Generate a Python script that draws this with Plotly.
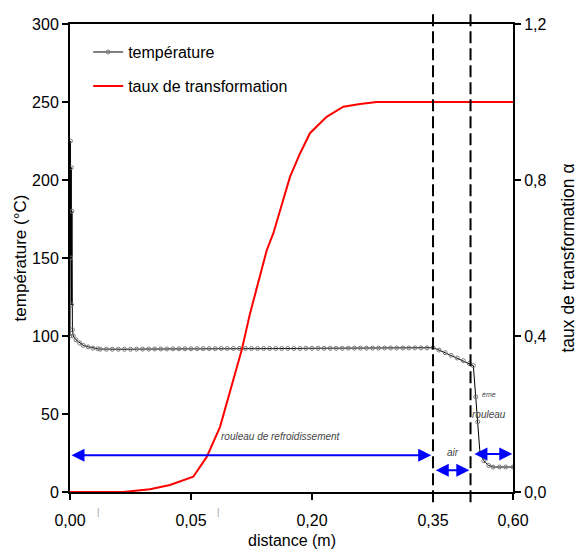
import plotly.graph_objects as go

# x positions are in axis units: one unit = one labelled tick interval
tick_pos = [0, 1, 2, 3, 3.661]
tick_text = ['0,00', '0,05', '0,20', '0,35', '0,60']

temp_x = [0.000, 0.003, 0.006, 0.010, 0.013, 0.016, 0.020, 0.027, 0.05, 0.08, 0.11, 0.15, 0.19, 0.23,
          0.25, 0.30, 0.35, 0.40, 0.45, 0.50, 0.55, 0.60, 0.65, 0.70, 0.75, 0.80, 0.85, 0.90, 0.95,
          1.00, 1.05, 1.10, 1.15, 1.20, 1.25, 1.30, 1.35, 1.40, 1.45, 1.50, 1.55, 1.60, 1.65, 1.70,
          1.75, 1.80, 1.85, 1.90, 1.95, 2.00, 2.05, 2.10, 2.15, 2.20, 2.25, 2.30, 2.35, 2.40, 2.45,
          2.50, 2.55, 2.60, 2.65, 2.70, 2.75, 2.80, 2.85, 2.90, 2.95, 3.00,
          3.05, 3.10, 3.15, 3.20, 3.25, 3.30, 3.333,
          3.353, 3.37, 3.388, 3.42, 3.46, 3.496, 3.55, 3.60, 3.661]
temp_y = [100, 225, 150, 208, 120, 180, 104, 100, 97.5, 95.5, 94, 93, 92.2, 91.8,
          91.6, 91.5, 91.5, 91.5, 91.5, 91.5, 91.6, 91.6, 91.6, 91.7, 91.7, 91.7, 91.8, 91.8, 91.8,
          91.8, 91.9, 91.9, 91.9, 91.9, 92.0, 92.0, 92.0, 92.0, 92.0, 92.0, 92.0, 92.0, 92.0, 92.0,
          92.0, 92.0, 92.0, 92.0, 92.1, 92.1, 92.1, 92.1, 92.1, 92.1, 92.1, 92.2, 92.2, 92.2, 92.2,
          92.2, 92.2, 92.3, 92.3, 92.3, 92.3, 92.3, 92.4, 92.4, 92.4, 92.5,
          91.0, 89.3, 87.6, 85.9, 84.2, 82.4, 81.0,
          61.0, 45.0, 25.0, 20.0, 17.0, 16.0, 16.0, 16.0, 16.0]

alpha_x = [0.000, 0.44, 0.661, 0.826, 1.019, 1.130, 1.240, 1.336, 1.419, 1.488, 1.584, 1.626, 1.680,
           1.736, 1.818, 1.901, 1.983, 2.039, 2.121, 2.259, 2.397, 2.535, 3.000, 3.661]
alpha_y = [0.000, 0.000, 0.007, 0.018, 0.039, 0.090, 0.167, 0.274, 0.364, 0.458, 0.569, 0.620, 0.663,
           0.723, 0.808, 0.868, 0.920, 0.937, 0.962, 0.988, 0.995, 1.000, 1.000, 1.000]

boundaries = [3.0, 3.31]

arrows = [  # (x_start, x_end, temperature level)
    (0.0, 2.985, 23.5),
    (3.01, 3.30, 14.0),
    (3.33, 3.655, 24.4),
]

labels = [  # (text, x, temperature level, size)
    ('<i>rouleau de refroidissement</i>', 1.744, 35.3, 10),
    ('<i>air</i>', 3.165, 25.5, 10),
    ('<i>ème</i>', 3.46, 62.5, 7),
    ('<i>rouleau</i>', 3.46, 50.0, 10),
]

FONT = 'Liberation Sans, Arial, sans-serif'
FS = 16

fig = go.Figure()
fig.add_trace(go.Scatter(
    x=temp_x, y=temp_y, name='température', mode='lines+markers', showlegend=True,
    line=dict(color='black', width=1),
    marker=dict(symbol='circle-open', size=4, color='#777', line=dict(width=1)),
    legend='legend'))
fig.add_trace(go.Scatter(
    x=alpha_x, y=alpha_y, name='taux de transformation', mode='lines', showlegend=True,
    line=dict(color='#ff0000', width=2), yaxis='y2', legend='legend2'))

for b in boundaries:
    fig.add_shape(type='line', xref='x', yref='paper', x0=b, x1=b, y0=-0.022, y1=1.03,
                  line=dict(color='black', width=2, dash='12px,5px'))

for x0, x1, yv in arrows:
    fig.add_annotation(x=x1, y=yv, ax=x0, ay=yv, xref='x', yref='y', axref='x', ayref='y',
                       showarrow=True, arrowhead=2, startarrowhead=2, arrowside='end+start',
                       arrowsize=1.3, startarrowsize=1.3, arrowwidth=2, arrowcolor='#0000ff', text='')

for t, xv, yv, s in labels:
    fig.add_annotation(x=xv, y=yv, xref='x', yref='y', text=t, showarrow=False,
                       font=dict(family=FONT, size=s, color='#444'))

for xv in [0.23, 1.22]:
    fig.add_annotation(x=xv, y=-0.058, xref='x', yref='paper', text='|', showarrow=False,
                       font=dict(family=FONT, size=9, color='#999'))

# x-axis title
fig.add_annotation(x=0.5, y=-0.1047, xref='paper', yref='paper', yanchor='middle',
                   text='distance (m)', showarrow=False, font=dict(family=FONT, size=FS, color='black'))

axis_common = dict(showline=True, linecolor='black', linewidth=2, ticks='outside', ticklen=6,
                   tickwidth=1.5, tickcolor='black', showgrid=False, zeroline=False, automargin=False,
                   tickfont=dict(family=FONT, size=FS, color='black'))

fig.update_layout(
    width=587, height=556,
    margin=dict(l=62, r=82, t=16, b=72),
    paper_bgcolor='white', plot_bgcolor='white',
    font=dict(family=FONT, color='black'),
    showlegend=True,
    xaxis=dict(range=[0, 3.661], tickvals=tick_pos, ticktext=tick_text, mirror=True,
               ticklabelstandoff=7, **axis_common),
    yaxis=dict(range=[0, 300], dtick=50,
               title=dict(text='température (°C)', font=dict(size=17), standoff=1), **axis_common),
    yaxis2=dict(range=[0, 1.2], tickvals=[0, 0.4, 0.8, 1.2], ticktext=['0,0', '0,4', '0,8', '1,2'],
                overlaying='y', side='right',
                title=dict(text='taux de transformation α', font=dict(size=17.5), standoff=16), **axis_common),
    legend=dict(x=0.041, y=0.94, xanchor='left', yanchor='middle', bgcolor='rgba(0,0,0,0)',
                font=dict(size=FS)),
    legend2=dict(x=0.041, y=0.8675, xanchor='left', yanchor='middle', bgcolor='rgba(0,0,0,0)',
                 font=dict(size=FS)),
)

fig.write_html('out.html')
